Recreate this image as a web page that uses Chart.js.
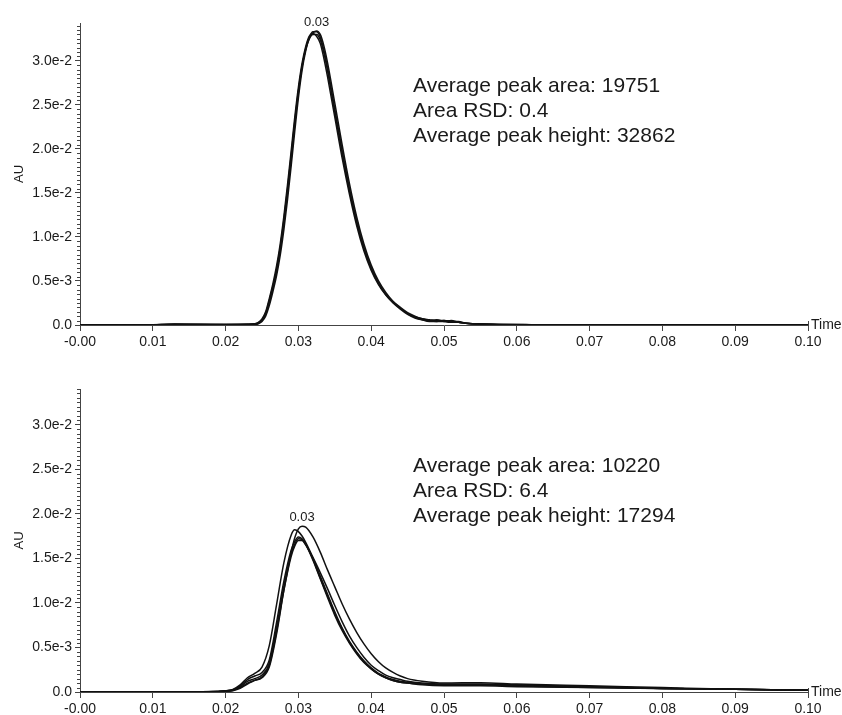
<!DOCTYPE html>
<html>
<head>
<meta charset="utf-8">
<script src="https://cdn.jsdelivr.net/npm/chart.js@4"></script>
<style>
  html, body { margin: 0; padding: 0; background: #fff; }
  canvas { position: absolute; left: 0; }
  #c1 { top: 0; }
  #c2 { top: 357px; }
</style>
</head>
<body>
<canvas id="c1" width="842" height="357"></canvas>
<canvas id="c2" width="842" height="358"></canvas>
<script>
// ---- axis ticks ----
const xTickValues = [0, 0.01, 0.02, 0.03, 0.04, 0.05, 0.06, 0.07, 0.08, 0.09, 0.10];
const xTickLabels = ["-0.00", "0.01", "0.02", "0.03", "0.04", "0.05", "0.06", "0.07", "0.08", "0.09", "0.10"];
const yTickValues = [0, 0.005, 0.010, 0.015, 0.020, 0.025, 0.030];
const yTickLabels = ["0.0", "0.5e-3", "1.0e-2", "1.5e-2", "2.0e-2", "2.5e-2", "3.0e-2"];
const xAxisName = "Time";
const yAxisName = "AU";
const peakLabels = ["0.03", "0.03"];

// ---- annotation texts ----
const statsTop = ["Average peak area: 19751", "Area RSD: 0.4", "Average peak height: 32862"];
const statsBottom = ["Average peak area: 10220", "Area RSD: 6.4", "Average peak height: 17294"];

// ---- top panel: time (min) and absorbance (AU) of repeated runs ----
const timeTop = [0, 0.005, 0.010, 0.013, 0.016, 0.020, 0.023, 0.024, 0.0245, 0.025,
  0.0255, 0.026, 0.0265, 0.027, 0.0275, 0.028, 0.0285, 0.029, 0.0295, 0.030,
  0.0305, 0.031, 0.0315, 0.032, 0.0325, 0.033, 0.0335, 0.034, 0.035, 0.036,
  0.037, 0.038, 0.039, 0.040, 0.041, 0.042, 0.043, 0.044, 0.045, 0.046,
  0.047, 0.048, 0.049, 0.050, 0.051, 0.052, 0.053, 0.055, 0.058, 0.062,
  0.070, 0.080, 0.090, 0.100];
const topRun1 = [0, 0, 0.00003, 0.00008, 0.00006, 0.00005, 0.00008, 0.0001, 0.0002, 0.0005,
  0.0012, 0.0026, 0.0042, 0.0061, 0.0085, 0.0115, 0.0150, 0.0188, 0.0228, 0.0264,
  0.0293, 0.0314, 0.0327, 0.0333, 0.0333, 0.0327, 0.0312, 0.0292, 0.0245, 0.0198,
  0.0155, 0.0118, 0.0088, 0.0065, 0.0048, 0.0035, 0.0026, 0.0019, 0.0013, 0.0009,
  0.0006, 0.0004, 0.0004, 0.0005, 0.0004, 0.0003, 0.0002, 0.0001, 0.00005, 0.00003,
  0.00002, 0.00001, 0.00001, 0.00001];
const topRun2 = [0, 0, 0.00002, 0.00010, 0.00007, 0.00004, 0.00009, 0.00015, 0.0003, 0.0007,
  0.0015, 0.0030, 0.0047, 0.0067, 0.0092, 0.0123, 0.0159, 0.0197, 0.0236, 0.0270,
  0.0297, 0.0316, 0.0328, 0.0331, 0.0328, 0.0320, 0.0303, 0.0282, 0.0236, 0.0190,
  0.0149, 0.0113, 0.0084, 0.0062, 0.0046, 0.0034, 0.0025, 0.0018, 0.0012, 0.0008,
  0.0006, 0.0005, 0.0006, 0.0004, 0.0003, 0.0003, 0.0002, 0.0001, 0.00004, 0.00003,
  0.00002, 0.00001, 0.00001, 0.00001];
const topRun3 = [0, 0, 0.00003, 0.00007, 0.00005, 0.00005, 0.00006, 0.00008, 0.00015, 0.0004,
  0.0010, 0.0022, 0.0038, 0.0056, 0.0079, 0.0108, 0.0142, 0.0180, 0.0220, 0.0258,
  0.0289, 0.0311, 0.0326, 0.0332, 0.0334, 0.0330, 0.0317, 0.0298, 0.0252, 0.0205,
  0.0161, 0.0123, 0.0092, 0.0068, 0.0050, 0.0037, 0.0027, 0.0020, 0.0014, 0.0010,
  0.0007, 0.0005, 0.0004, 0.0004, 0.0005, 0.0003, 0.0002, 0.0001, 0.00006, 0.00004,
  0.00002, 0.00001, 0.00001, 0.00001];
const topRun4 = [0, 0, 0.00002, 0.00006, 0.00008, 0.00006, 0.00007, 0.00012, 0.00025, 0.0006,
  0.0013, 0.0028, 0.0044, 0.0063, 0.0088, 0.0119, 0.0154, 0.0192, 0.0231, 0.0266,
  0.0294, 0.0313, 0.0325, 0.0330, 0.0330, 0.0324, 0.0309, 0.0289, 0.0242, 0.0196,
  0.0153, 0.0117, 0.0087, 0.0064, 0.0047, 0.0035, 0.0026, 0.0019, 0.0013, 0.0009,
  0.0007, 0.0006, 0.0005, 0.0005, 0.0004, 0.0004, 0.0002, 0.0001, 0.00005, 0.00002,
  0.00002, 0.00001, 0.00001, 0.00001];

// ---- bottom panel ----
const timeBottom = [0, 0.010, 0.015, 0.019, 0.020, 0.021, 0.022, 0.023, 0.024, 0.025,
  0.026, 0.027, 0.028, 0.029, 0.0295, 0.030, 0.0305, 0.031, 0.032, 0.033,
  0.034, 0.035, 0.036, 0.037, 0.038, 0.039, 0.040, 0.041, 0.042, 0.043,
  0.044, 0.045, 0.047, 0.050, 0.055, 0.060, 0.070, 0.080, 0.090, 0.100];
const botRun1 = [0, 0.00002, 0.00003, 0.00005, 0.0001, 0.0002, 0.0006, 0.0012, 0.0015, 0.0019,
  0.0032, 0.0072, 0.0118, 0.0155, 0.0166, 0.0172, 0.0171, 0.0166, 0.0150, 0.0130,
  0.0110, 0.0090, 0.0072, 0.0057, 0.0045, 0.0035, 0.0027, 0.0021, 0.0017, 0.0014,
  0.0012, 0.0011, 0.0009, 0.0008, 0.0008, 0.0007, 0.0005, 0.0004, 0.0003, 0.0002];
const botRun2 = [0, 0.00001, 0.00002, 0.00004, 0.00008, 0.00015, 0.0004, 0.0009, 0.0013, 0.0017,
  0.0030, 0.0068, 0.0114, 0.0152, 0.0164, 0.0170, 0.0170, 0.0165, 0.0149, 0.0128,
  0.0108, 0.0088, 0.0071, 0.0056, 0.0044, 0.0034, 0.0026, 0.0020, 0.0016, 0.0013,
  0.0011, 0.0010, 0.0008, 0.0007, 0.0007, 0.0006, 0.0005, 0.0004, 0.0003, 0.0002];
const botRun3 = [0, 0.00002, 0.00003, 0.00006, 0.00012, 0.00025, 0.0007, 0.0014, 0.0018, 0.0022,
  0.0036, 0.0078, 0.0124, 0.0159, 0.0169, 0.0174, 0.0172, 0.0166, 0.0148, 0.0127,
  0.0106, 0.0086, 0.0069, 0.0055, 0.0043, 0.0033, 0.0026, 0.0020, 0.0016, 0.0013,
  0.0011, 0.0010, 0.0009, 0.0008, 0.0008, 0.0007, 0.0006, 0.0004, 0.0003, 0.0002];
const botRun4 = [0, 0.00002, 0.00003, 0.00006, 0.00015, 0.0003, 0.0008, 0.0016, 0.0021, 0.0028,
  0.0052, 0.0098, 0.0145, 0.0176, 0.0182, 0.0180, 0.0175, 0.0168, 0.0151, 0.0134,
  0.0116, 0.0097, 0.0079, 0.0063, 0.0050, 0.0039, 0.0030, 0.0024, 0.0019, 0.0016,
  0.0014, 0.0012, 0.0010, 0.0009, 0.0009, 0.0008, 0.0006, 0.0004, 0.0003, 0.0002];
const botRun5 = [0, 0.00002, 0.00003, 0.00005, 0.0001, 0.0002, 0.0005, 0.0010, 0.0013, 0.0016,
  0.0028, 0.0065, 0.0114, 0.0156, 0.0173, 0.0183, 0.0186, 0.0185, 0.0174, 0.0157,
  0.0137, 0.0118, 0.0099, 0.0082, 0.0067, 0.0054, 0.0043, 0.0034, 0.0027, 0.0022,
  0.0018, 0.0015, 0.0012, 0.0010, 0.00105, 0.0009, 0.0007, 0.0005, 0.0003, 0.0002];

const FONT = '"Liberation Sans", Arial, Helvetica, sans-serif';
const AXIS_COLOR = '#444';
const TEXT_COLOR = '#1a1a1a';
const MINOR_STEP = 0.0005;

const decoPlugin = {
  id: 'deco',
  afterDraw(chart, args, opts) {
    const ctx = chart.ctx;
    const xs = chart.scales.x, ys = chart.scales.y;
    ctx.save();
    ctx.strokeStyle = AXIS_COLOR;
    ctx.lineWidth = 1;
    // minor y ticks
    const n = Math.floor(ys.max / MINOR_STEP + 1e-6);
    for (let i = 0; i <= n; i++) {
      if (i % 10 === 0) continue;
      const py = Math.round(ys.getPixelForValue(i * MINOR_STEP)) + 0.5;
      ctx.beginPath();
      ctx.moveTo(xs.left - 3, py);
      ctx.lineTo(xs.left, py);
      ctx.stroke();
    }
    // small upward end tick on x axis
    ctx.beginPath();
    ctx.moveTo(Math.round(xs.right) + 0.5, ys.bottom - 4);
    ctx.lineTo(Math.round(xs.right) + 0.5, ys.bottom);
    ctx.stroke();
    // axis name "Time"
    ctx.fillStyle = TEXT_COLOR;
    ctx.font = '14px ' + FONT;
    ctx.textBaseline = 'middle';
    ctx.textAlign = 'left';
    ctx.fillText(xAxisName, xs.right + 3, ys.bottom);
    // peak label above highest point
    let best = null;
    chart.data.datasets.forEach(ds => ds.data.forEach(p => { if (!best || p.y > best.y) best = p; }));
    if (best) {
      ctx.font = '13px ' + FONT;
      ctx.textAlign = 'center';
      ctx.textBaseline = 'bottom';
      ctx.fillText(opts.peakLabel, xs.getPixelForValue(best.x), ys.getPixelForValue(best.y) - 2);
    }
    // statistics text
    ctx.font = '21px ' + FONT;
    ctx.textAlign = 'left';
    ctx.textBaseline = 'middle';
    opts.lines.forEach((t, i) => ctx.fillText(t, opts.tx, opts.ty + i * 25));
    ctx.restore();
  }
};

function makeDatasets(time, runs) {
  return runs.map(r => ({
    data: time.map((t, i) => ({ x: t, y: r[i] })),
    borderColor: '#111',
    borderWidth: 1.5,
    pointRadius: 0,
    fill: false,
    cubicInterpolationMode: 'monotone'
  }));
}

function makeChart(id, time, runs, yMax, padTop, xHeight, lines, ty, peakLabel) {
  return new Chart(document.getElementById(id), {
    type: 'line',
    data: { datasets: makeDatasets(time, runs) },
    options: {
      responsive: false,
      animation: false,
      devicePixelRatio: 1,
      layout: { padding: { top: padTop, right: 34, left: 0, bottom: 0 } },
      plugins: {
        legend: { display: false },
        tooltip: { enabled: false },
        deco: { lines: lines, tx: 413, ty: ty, peakLabel: peakLabel }
      },
      scales: {
        x: {
          type: 'linear',
          min: 0, max: 0.1,
          afterBuildTicks: s => { s.ticks = xTickValues.map(v => ({ value: v })); },
          afterFit: s => { s.height = xHeight; },
          ticks: {
            callback: (v, i) => xTickLabels[i],
            autoSkip: false, maxRotation: 0,
            color: TEXT_COLOR, padding: 3,
            font: { family: FONT, size: 14 }
          },
          grid: { drawOnChartArea: false, tickLength: 6, color: AXIS_COLOR },
          border: { color: AXIS_COLOR, width: 1 }
        },
        y: {
          type: 'linear',
          min: 0, max: yMax,
          afterBuildTicks: s => { s.ticks = yTickValues.map(v => ({ value: v })); },
          afterFit: s => { s.width = 80; },
          ticks: {
            callback: (v, i) => yTickLabels[i],
            autoSkip: false,
            color: TEXT_COLOR, padding: 3,
            font: { family: FONT, size: 14 }
          },
          title: {
            display: true, text: yAxisName, color: TEXT_COLOR,
            font: { family: FONT, size: 13 },
            padding: { top: 12, bottom: 0 }
          },
          grid: { drawOnChartArea: false, tickLength: 5, color: AXIS_COLOR },
          border: { color: AXIS_COLOR, width: 1 }
        }
      }
    },
    plugins: [decoPlugin]
  });
}

makeChart('c1', timeTop, [topRun1, topRun2, topRun3, topRun4], 0.0343, 23, 32, statsTop, 86, peakLabels[0]);
makeChart('c2', timeBottom, [botRun1, botRun2, botRun3, botRun4, botRun5], 0.0340, 32, 23, statsBottom, 109, peakLabels[1]);
</script>
</body>
</html>
